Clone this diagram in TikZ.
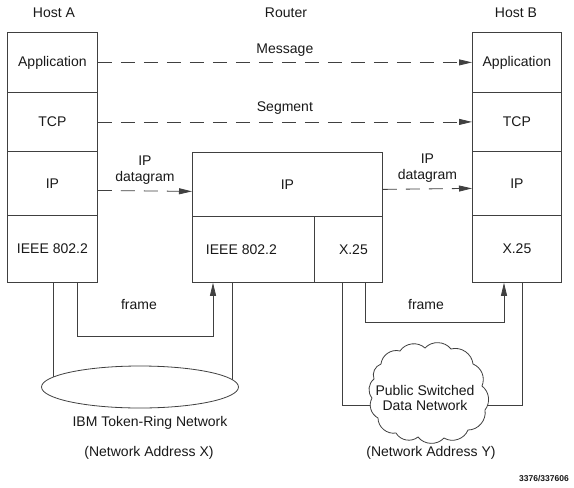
\documentclass[tikz,border=0pt]{standalone}
\usepackage{fontspec}
\setmainfont{Liberation Sans}
\usetikzlibrary{arrows.meta,shapes.geometric,backgrounds}
\begin{document}
\begin{tikzpicture}[x=1pt,y=-1pt,
  every node/.style={font=\fontsize{14pt}{15.5pt}\selectfont, text=black!90},
  layer/.style={draw=black!75, line width=0.8pt, rectangle, inner sep=0pt, anchor=north west},
  link/.style={draw=black!75, line width=0.8pt},
  tip/.style={-{Triangle[length=13pt,width=6pt]}},
  flow/.style={link, dash pattern=on 14pt off 9pt, tip},
  lbl/.style={align=center, inner sep=0pt},
  puff/.style={bend left=#1},
  puff/.default=50
]
\useasboundingbox (0,0) rectangle (574,488);

% titles
\node (hA) at (54,13) {Host A};
\node (rt) at (286,13) {Router};
\node (hB) at (516,13) {Host B};

% Host A stack
\node[layer, minimum width=90pt, minimum height=60pt] (aApp) at (7,32) {Application};
\node[layer, minimum width=90pt, minimum height=59pt] (aTCP) at (7,92) {TCP};
\node[layer, minimum width=90pt, minimum height=64pt] (aIP) at (7,151) {IP};
\node[layer, minimum width=90pt, minimum height=67pt] (aLink) at (7,215) {IEEE 802.2};

% Host B stack
\node[layer, minimum width=89pt, minimum height=60pt] (bApp) at (472,32) {Application};
\node[layer, minimum width=89pt, minimum height=59pt] (bTCP) at (472,92) {TCP};
\node[layer, minimum width=89pt, minimum height=64pt] (bIP) at (472,151) {IP};
\node[layer, minimum width=89pt, minimum height=67pt] (bLink) at (472,215) {X.25};

% Router
\node[layer, minimum width=190pt, minimum height=64pt] (rIP) at (192,152) {IP};
\node[layer, minimum width=122pt, minimum height=66pt,
      label={[xshift=-12pt]center:IEEE 802.2}] (rLink) at (192,216) {};
\node[layer, minimum width=68pt, minimum height=66pt,
      label={[xshift=5pt]center:X.25}] (rX25) at (314,216) {};

% peer flows
\draw[flow] (aApp.east) -- (bApp.west) node[midway, yshift=12pt] {Message};
\draw[flow] (aTCP.east) -- (bTCP.west) node[midway, yshift=14pt] {Segment};
\draw[flow] ([yshift=-7pt]aIP.east) -- ([yshift=-7pt]rIP.west)
  node[midway, lbl, yshift=21pt] {IP\\datagram};
\draw[flow] ([yshift=-5pt]rIP.east) -- ([yshift=-5pt]bIP.west)
  node[midway, lbl, yshift=21pt] {IP\\datagram};

% token ring
\node[ellipse, draw=black!75, line width=0.8pt, fill=white, minimum width=197pt,
      minimum height=42pt, inner sep=0pt] (ring) at (140,387) {};
\node (ringlbl) at (150,423) {IBM Token-Ring Network};
\node (addrX) at (149,453) {(Network Address X)};

% public switched data network (cloud outline)
\draw[link, fill=white]
  (381,364) to[puff] (400,351) to[puff] (425,348) to[puff] (451,349)
  to[puff] (473,364) to[puff=45] (482,386) to[puff=45] (485,410)
  to[puff] (468,430) to[puff] (444,438) to[puff] (418,437)
  to[puff] (396,433) to[puff] (378,418) to[puff=45] (372,398)
  to[puff=45] (374,379) to[puff=45] cycle;
\node[lbl] (psdn) at (425,398) {Public Switched\\Data Network};
\node (addrY) at (431,453) {(Network Address Y)};
\node[font=\fontsize{8.5pt}{10pt}\selectfont\bfseries] (fig) at (544,478) {3376/337606};

% frame labels
\node (frA) at (139,304) {frame};
\node (frB) at (426,304) {frame};

% helper coordinates
\coordinate (xa) at (53,0);
\coordinate (xb) at (77,0);
\coordinate (xc) at (213,0);
\coordinate (xd) at (232,0);
\coordinate (xe) at (342,0);
\coordinate (xf) at (365,0);
\coordinate (xg) at (504,0);
\coordinate (xh) at (522,0);
\coordinate (ya) at (0,336);
\coordinate (yb) at (0,322);
\coordinate (yc) at (0,405);

% frame paths
\draw[link, tip] (xb |- aLink.south) |- (xc |- ya) -- (xc |- rLink.south);
\draw[link, tip] (xf |- rX25.south) |- (xg |- yb) -- (xg |- bLink.south);

% attachments to the networks
\begin{scope}[on background layer]
\fill[white] (0,0) rectangle (574,488);
\draw[link] (xa |- aLink.south) -- (xa |- ring.center);
\draw[link] (xd |- rLink.south) -- (xd |- ring.center);
\draw[link] (xe |- rX25.south) |- (psdn.center |- yc);
\draw[link] (xh |- bLink.south) |- (psdn.center |- yc);
\end{scope}
\end{tikzpicture}
\end{document}
